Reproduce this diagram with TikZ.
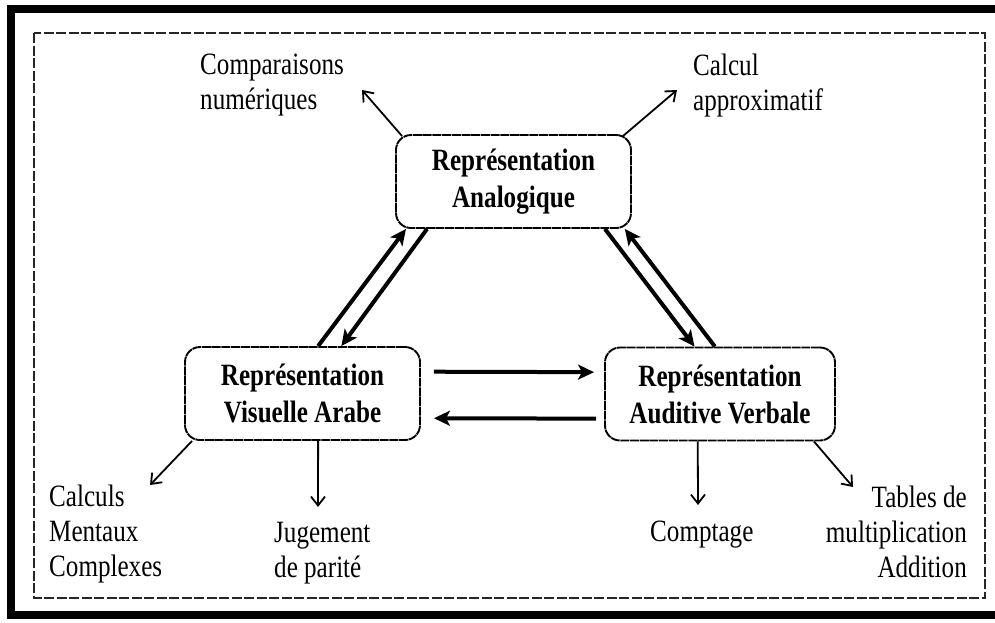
\documentclass[tikz,border=0pt]{standalone}
\usepackage{fontspec}
\setmainfont[FakeStretch=0.81]{Liberation Serif}
\usetikzlibrary{arrows.meta,calc}
\begin{document}
\begin{tikzpicture}[x=1pt,y=-1pt,
  box/.style={draw=black, line width=1.9pt, dash pattern=on 9pt off 0.7pt,
    rounded corners=15pt, minimum width=235pt, minimum height=93pt,
    inner sep=0pt, align=center, font=\fontsize{31}{37}\selectfont\bfseries},
  lbl/.style={inner sep=0pt, font=\fontsize{31}{35}\selectfont},
  thinarrow/.style={line width=1.8pt, -{Straight Barb[length=9pt,width=14pt,line width=1.8pt]}},
  bigarrow/.style={line width=4pt, -{Stealth[length=16pt,width=15pt,inset=4pt]}},
  dashframe/.style={line width=1.6pt, draw=black!85, dash pattern=on 10pt off 2.5pt}]
\useasboundingbox (0,0) rectangle (995,622);
\draw[line width=8pt] (10.5,9) rectangle (1010,614.5);
\draw[dashframe] (34,33) rectangle (985,598);

\node[box] (A) at (513.5,181.5) {Représentation\\Analogique};
\node[box] (V) at (302.5,393.5) {Représentation\\Visuelle Arabe};
\node[box, minimum width=230pt] (U) at (720,394) {Représentation\\Auditive Verbale};

\node[lbl, anchor=north west, align=left] (comp) at (200,54) {Comparaisons\\numériques};
\node[lbl, anchor=north west, align=left] (approx) at (693,54) {Calcul\\approximatif};
\node[lbl, anchor=north west, align=left] (calc) at (49,485) {Calculs\\Mentaux\\Complexes};
\node[lbl, anchor=north west, align=left] (jug) at (274,522) {Jugement\\de parité};
\node[lbl, anchor=north west, align=left] (cpt) at (650,521) {Comptage};
\node[lbl, anchor=north east, align=right] (tab) at (967,486) {Tables de\\multiplication\\Addition};

\coordinate (t1) at (362,90);
\coordinate (t2) at (677,90);
\coordinate (t3) at (150,485);
\coordinate (t4) at (318,507);
\coordinate (t5) at (698,505);
\coordinate (t6) at (853,487);

\draw[thinarrow] ($(A.north west)+(7,2)$) -- (t1);
\draw[thinarrow] ($(A.north east)+(-9,2)$) -- (t2);
\draw[thinarrow] ($(V.south west)+(8,0)$) -- (t3);
\draw[thinarrow] ($(V.south west)!0.566!(V.south east)$) -- (t4);
\draw[thinarrow] ($(U.south west)!0.404!(U.south east)$) -- (t5);
\draw[thinarrow] ($(U.south east)+(-22,0)$) -- (t6);

\draw[bigarrow] ($(V.north west)!0.566!(V.north east)$) -- ($(A.south west)!0.046!(A.south east)$);
\draw[bigarrow] ($(A.south west)!0.135!(A.south east)$) -- ($(V.north west)!0.664!(V.north east)$);
\draw[bigarrow] ($(A.south west)!0.886!(A.south east)$) -- ($(U.north west)!0.39!(U.north east)$);
\draw[bigarrow] ($(U.north west)!0.478!(U.north east)$) -- ($(A.south west)!0.97!(A.south east)$);
\draw[bigarrow, shorten <=13pt, shorten >=10pt] ($(V.north east)!0.27!(V.south east)$) -- ($(U.north west)!0.27!(U.south west)$);
\draw[bigarrow, shorten <=8pt, shorten >=13pt] ($(U.north west)!0.76!(U.south west)$) -- ($(V.north east)!0.76!(V.south east)$);
\end{tikzpicture}
\end{document}
